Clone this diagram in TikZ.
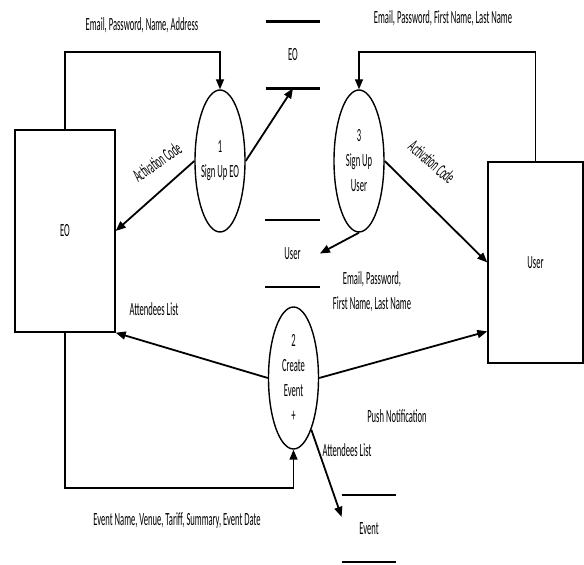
\documentclass[tikz,border=0pt]{standalone}
\usepackage{fontspec}
\setmainfont{Carlito}[FakeStretch=0.46]
\usetikzlibrary{arrows.meta,shapes.geometric}
\begin{document}
\begin{tikzpicture}  % ------ DFD niveau 1 : EO, User, Event ------------------
      [x=0.5pt,y=-0.5pt,font=\fontsize{9.3}{12.5}\selectfont,
       flow/.style={-{Triangle[length=5pt,width=4pt]},line width=0.9pt},
       elbow/.style={-{Triangle[length=5pt,width=4pt]},line width=0.7pt},
       entity/.style={draw,line width=0.7pt,inner sep=0pt},
       process/.style={draw,ellipse,line width=0.7pt,inner ysep=0pt,inner xsep=-2pt,
         align=center,minimum width=25pt,minimum height=71pt},
       store/.style={inner sep=0pt,minimum width=27pt,minimum height=33pt,
         append after command={(\tikzlastnode.north west) edge[line width=1.2pt] (\tikzlastnode.north east)
           (\tikzlastnode.south west) edge[line width=1.2pt] (\tikzlastnode.south east)}}]
    \useasboundingbox (0,0) rectangle (584,565);
    \node [entity,minimum width=50pt,minimum height=101pt] (eo) at (65,231) {EO};
    \node [entity,minimum width=47.5pt,minimum height=100.5pt] (user) at (535.5,262.5) {User};
    \node [process] (p1) at (220,161) {1\\Sign Up EO};
    \node [process] (p3) at (359,161) {3\\Sign Up\\User};
    \node [process] (p2) at (293.5,378) {2\\Create\\Event\\+};
    \node [store] (eostore) at (293,55) {EO};
    \node [store] (userstore) at (292.5,253.5) {User};
    \node [store] (eventstore) at (369,528.5) {Event};
    \coordinate (top) at (0,52);
    \coordinate (bot) at (0,488);
    \draw [elbow] (eo.north) |- (p1.north |- top) -- (p1.north);
    \draw [elbow] (user.north) |- (p3.north |- top) -- (p3.north);
    \draw [elbow] (eo.south) |- (p2.south |- bot) -- (p2.south);
    \draw [flow] (p1.east) -- (eostore.south);
    \draw [flow] (p1.west) -- (eo.east);
    \draw [flow] (p3.east) -- (user.west);
    \draw [flow] (p3.south) -- (userstore.east);
    \draw [flow] (p2.west) -- (eo.south east);
    \draw [flow] (p2.east) -- (user.235);
    \draw [flow] (p2.-71) -- (eventstore.157);
    \node (t1) at (142,25) {Email, Password, Name, Address};
    \node (t2) at (443,18) {Email, Password, First Name, Last Name};
    \node [rotate=35] (t3) at (157,162) {Activation Code};
    \node [rotate=-41] (t4) at (432,162) {Activation Code};
    \node (t5) at (154,309) {Attendees List};
    \node [align=center] (t6) at (372,292) {Email, Password,\\First Name, Last Name};
    \node (t7) at (397,416) {Push Notification};
    \node (t8) at (347,450) {Attendees List};
    \node (t9) at (177,521) {Event Name, Venue, Tariff, Summary, Event Date};
\end{tikzpicture}
\end{document}
